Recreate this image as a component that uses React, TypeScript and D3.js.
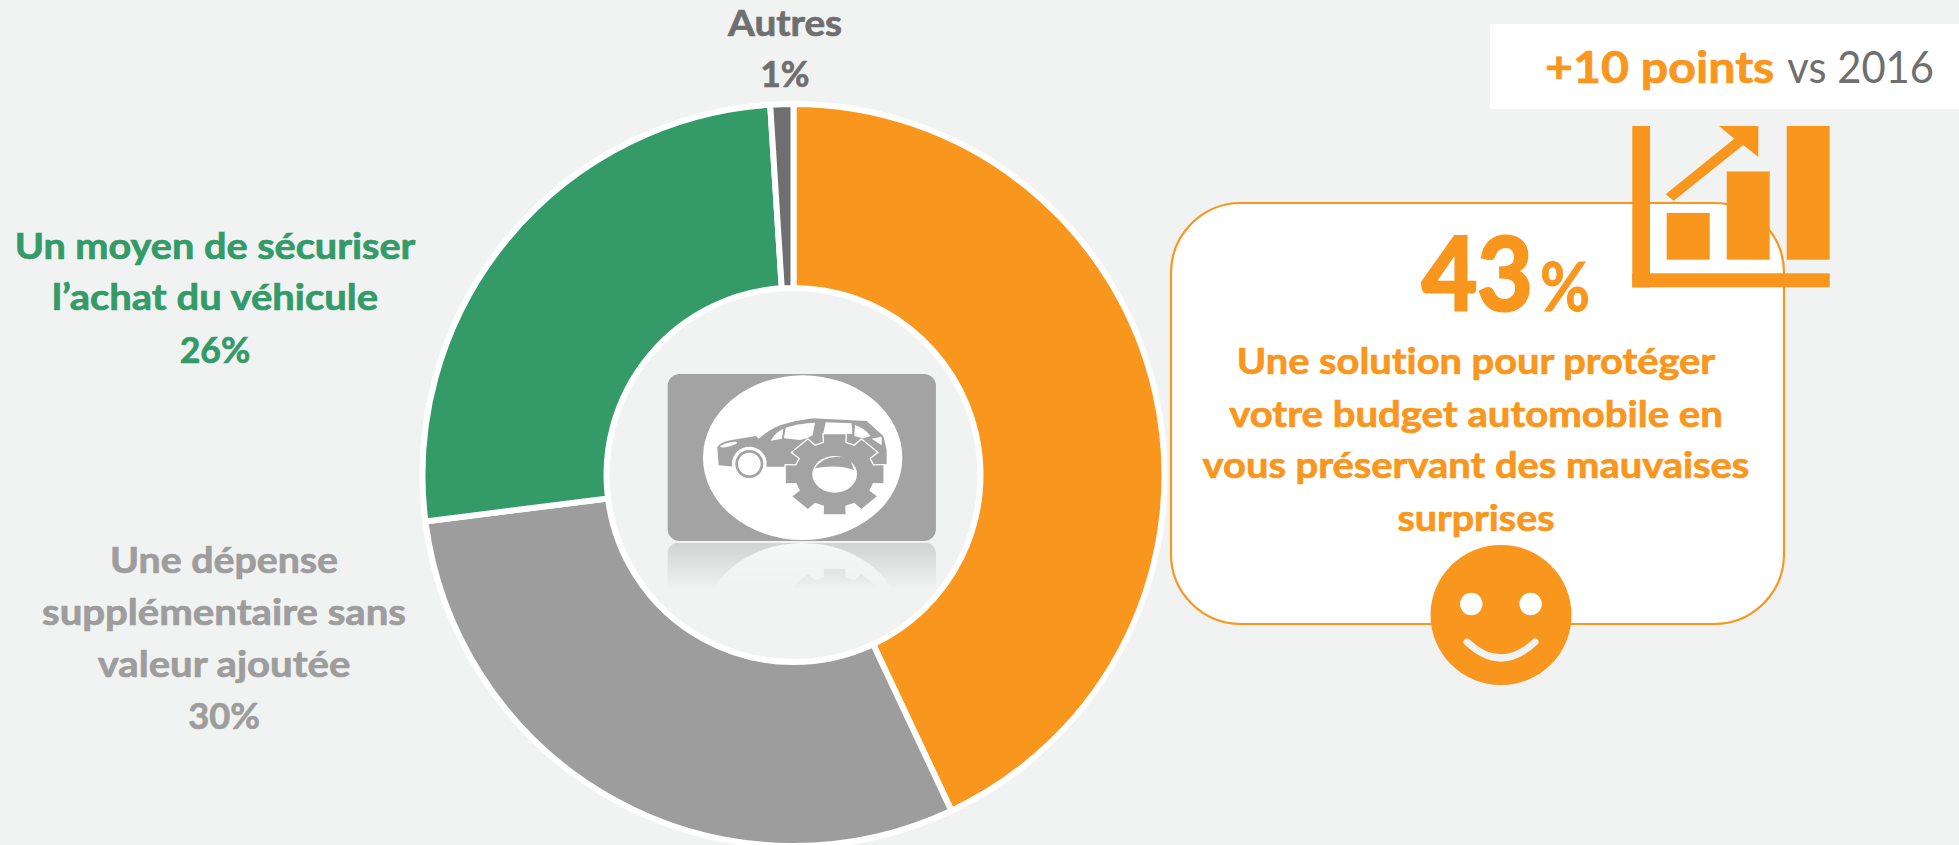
import React, { useEffect, useRef } from "react";
import * as d3 from "d3";

const categories = ["Une solution", "Une dépense", "Un moyen", "Autres"];
const shares = [43, 30, 26, 1];
const sliceColors = ["#f8961e", "#9d9d9d", "#339a68", "#6f6f70"];

const greenLines = ["Un moyen de sécuriser", "l’achat du véhicule", "26%"];
const grayLines = ["Une dépense", "supplémentaire sans", "valeur ajoutée", "30%"];
const otherLines = ["Autres", "1%"];
const cardLines = [
  "Une solution pour protéger",
  "votre budget automobile en",
  "vous préservant des mauvaises",
  "surprises",
];
const iconBars = [35, 66, 100];

const ORANGE = "#f8961e";
const BG = "#f1f3f2";
const FONT = "Lato, 'Open Sans', sans-serif";

function drawLogo(g: any, gray: string) {
  // logo is traced in zoomed coordinates
  g.append("rect").attr("x", 143).attr("y", 102).attr("width", 805).attr("height", 501).attr("rx", 36).attr("fill", gray);
  g.append("ellipse").attr("cx", 548).attr("cy", 353).attr("rx", 299).attr("ry", 247).attr("fill", "#fff");
  g.append("path")
    .attr("d", "M292,322 Q300,306 335,300 L408,288 L416,296 Q450,268 480,256 Q530,240 580,235 L740,243 L790,288 L800,330 L800,372 L770,378 L490,380 L435,380 L345,380 L296,376 Z")
    .attr("fill", gray);
  // windows
  const windows = [
    "M452,302 Q465,278 490,266 L486,296 Z",
    "M492,295 L497,263 Q540,250 585,248 L578,286 L560,295 L540,300 Z",
    "M610,280 L617,247 L695,250 L697,282 Z",
    "M703,288 L705,255 Q735,265 752,288 L730,295 Z",
    "M755,296 L785,290 L785,316 Z",
  ];
  windows.forEach((d) => g.append("path").attr("d", d).attr("fill", "#fff"));
  g.append("ellipse").attr("cx", 326).attr("cy", 314).attr("rx", 26).attr("ry", 6).attr("transform", "rotate(-14 326 314)").attr("fill", "#fff");
  g.append("circle").attr("cx", 388).attr("cy", 372).attr("r", 52).attr("fill", "#fff");
  g.append("circle").attr("cx", 388).attr("cy", 372).attr("r", 38).attr("fill", "none").attr("stroke", gray).attr("stroke-width", 8);

  // gear
  const cx = 644;
  const cy = 403;
  const teeth = 8;
  const pts: [number, number][] = [];
  const at = (r: number, a: number): [number, number] => [
    cx + 1.22 * r * Math.cos(a),
    cy + r * Math.sin(a),
  ];
  for (let i = 0; i < teeth; i++) {
    const a = (i / teeth) * 2 * Math.PI - Math.PI / 2;
    pts.push(at(98, a - 0.27), at(123, a - 0.22), at(123, a + 0.22), at(98, a + 0.27));
  }
  const gearPath = d3.line().curve(d3.curveLinearClosed)(pts) as string;
  g.append("path").attr("d", gearPath).attr("fill", gray).attr("stroke", "#fff").attr("stroke-width", 8).attr("paint-order", "stroke");
  g.append("ellipse").attr("cx", cx).attr("cy", cy).attr("rx", 67).attr("ry", 55).attr("fill", "#fff");
  g.append("path").attr("d", "M585,385 Q605,352 650,350 Q680,350 692,362 L702,390 Q650,372 585,385 Z").attr("fill", gray);
}

export default function App() {
  const ref = useRef<SVGSVGElement>(null);

  useEffect(() => {
    const svg = d3.select(ref.current);
    svg.selectAll("*").remove();

    const defs = svg.append("defs");
    const grad = defs.append("linearGradient").attr("id", "fade").attr("x1", 0).attr("x2", 0).attr("y1", 0).attr("y2", 1);
    grad.append("stop").attr("offset", 0).attr("stop-color", "#fff").attr("stop-opacity", 0.32);
    grad.append("stop").attr("offset", 1).attr("stop-color", "#fff").attr("stop-opacity", 0);
    const mask = defs.append("mask").attr("id", "fadeMask").attr("maskUnits", "userSpaceOnUse")
      .attr("x", 660).attr("y", 543).attr("width", 290).attr("height", 50);
    mask.append("rect").attr("x", 660).attr("y", 543).attr("width", 290).attr("height", 47).attr("fill", "url(#fade)");

    // donut
    const pie = d3.pie<number>().sort(null).value((d) => d);
    const arc = d3.arc<d3.PieArcDatum<number>>().innerRadius(187).outerRadius(371);
    const donut = svg.append("g").attr("transform", "translate(793.5,475)");
    donut
      .selectAll("path")
      .data(pie(shares))
      .enter()
      .append("path")
      .attr("d", arc)
      .attr("fill", (d, i) => sliceColors[i])
      .attr("stroke", "#fff")
      .attr("stroke-width", 6)
      .append("title")
      .text((d, i) => categories[i]);

    // logo + reflection
    const logo = svg.append("g").attr("transform", "translate(620,340) scale(0.3333)");
    drawLogo(logo, "#a3a3a3");
    const refl = svg.append("g").attr("mask", "url(#fadeMask)");
    const logo2 = refl.append("g").attr("transform", "translate(620,743) scale(0.3333,-0.3333)");
    drawLogo(logo2, "#8f8f8f");

    // text squeezed to the widths measured on the picture (Calibri is not installed)
    const fit = (t: string, x: number, y: number, w: number, color: string, size: number, weight = 700) =>
      svg.append("text").attr("x", x).attr("y", y).attr("text-anchor", "middle")
        .attr("font-family", FONT).attr("font-weight", weight).attr("font-size", size)
        .attr("fill", color).style("font-variant-ligatures", "none")
        .attr("textLength", w).attr("lengthAdjust", "spacingAndGlyphs").text(t);

    const label = (lines: string[], x: number, ys: number[], ws: number[], color: string) => {
      lines.forEach((t, i) => fit(t, x, ys[i], ws[i], color, 36).attr("stroke", color).attr("stroke-width", 0.7));
    };
    label(otherLines, 785, [36, 87.3], [114, 49], "#6f6f70");
    label(greenLines, 215, [259.3, 310, 363.3], [400.7, 326, 70.7], "#339a68");
    label(grayLines, 224, [572.7, 625, 676.7, 729.3], [228, 364, 252.7, 71.7], "#9d9d9d");

    // card
    svg.append("rect").attr("x", 1171).attr("y", 203).attr("width", 613).attr("height", 421).attr("rx", 70).attr("ry", 70)
      .attr("fill", "#fff").attr("stroke", ORANGE).attr("stroke-width", 2.2);

    // top box
    svg.append("rect").attr("x", 1490).attr("y", 24).attr("width", 469).attr("height", 85).attr("fill", "#fff");
    fit("+10 points", 1659.7, 83.3, 229.3, ORANGE, 44).attr("stroke", ORANGE).attr("stroke-width", 0.7);
    fit("vs 2016", 1860.7, 83.3, 146.7, "#6f6f70", 44, 400);

    // growth icon
    const icon = svg.append("g").attr("fill", ORANGE);
    const xBar = d3.scaleBand<number>().domain(iconBars.map((d, i) => i)).range([1666.7, 1829.7]).paddingInner(17 / 60);
    const yBar = d3.scaleLinear().domain([0, 100]).range([259.7, 126]);
    icon.selectAll("rect.bar").data(iconBars).enter().append("rect").attr("class", "bar")
      .attr("x", (d, i) => xBar(i) as number).attr("y", (d) => yBar(d))
      .attr("width", xBar.bandwidth()).attr("height", (d) => yBar(0) - yBar(d));
    icon.append("rect").attr("x", 1632.3).attr("y", 126).attr("width", 17.7).attr("height", 161.3);
    icon.append("rect").attr("x", 1632.3).attr("y", 273.3).attr("width", 197.4).attr("height", 14);
    icon.append("path").attr("transform", "translate(1480,0) scale(0.3333)")
      .attr("d", "M557,583 L763,416 L717,378 L835,378 L835,471 L790,435 L581,602 Z");

    // card text
    fit("43", 1477.2, 309.5, 111, ORANGE, 102).attr("stroke", ORANGE).attr("stroke-width", 3);
    fit("%", 1565, 310.7, 50, ORANGE, 66).attr("stroke", ORANGE).attr("stroke-width", 0.8);
    label(cardLines, 1476, [374.3, 426.7, 478.3, 531], [478.4, 493.7, 546.8, 157], ORANGE);

    // smiley
    const face = svg.append("g");
    face.append("ellipse").attr("cx", 1501).attr("cy", 615).attr("rx", 70.5).attr("ry", 70).attr("fill", ORANGE);
    face.append("ellipse").attr("cx", 1471.3).attr("cy", 604).attr("rx", 11.2).attr("ry", 11.3).attr("fill", "#fff");
    face.append("ellipse").attr("cx", 1530.6).attr("cy", 604).attr("rx", 11.2).attr("ry", 11.3).attr("fill", "#fff");
    face.append("path").attr("d", "M1467,642 Q1501,674 1535,642").attr("fill", "none").attr("stroke", BG)
      .attr("stroke-width", 7).attr("stroke-linecap", "round");
  }, []);

  return (
    <svg
      ref={ref}
      width={1959}
      height={845}
      style={{ position: "absolute", left: 0, top: 0, background: BG }}
    />
  );
}
